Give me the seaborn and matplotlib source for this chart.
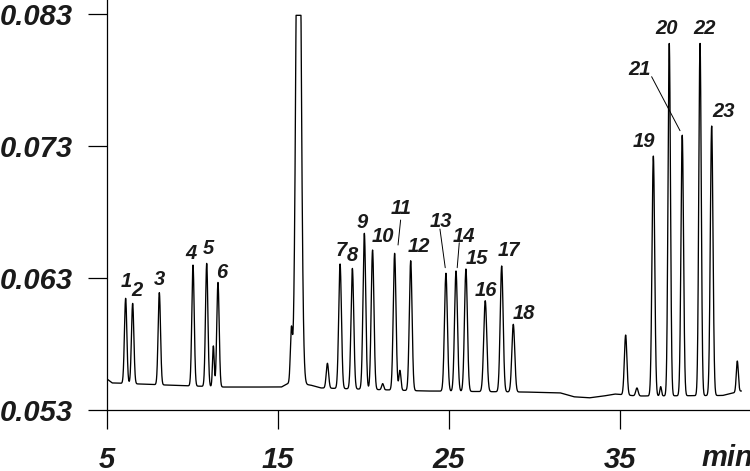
import numpy as np
import pandas as pd
import matplotlib.pyplot as plt
import seaborn as sns

# -------------------------------
# Data
# -------------------------------
# baseline knots (min, signal)
base_t = [5.0, 5.3, 8.5, 11.8, 15.2, 15.65, 16.9, 17.5, 23.6, 29.5, 31.5, 32.3, 33.2, 34.0, 34.7, 36.0, 41.0, 42.1]
base_v = [0.05535, 0.05505, 0.05489, 0.05474, 0.05474, 0.05505, 0.05489, 0.05467, 0.05444, 0.05436,
          0.05430, 0.05400, 0.05392, 0.05405, 0.05421, 0.05406, 0.05410, 0.05444]

# peak table: retention time (min), apex value, sigma (min)
peak_rt = [6.09, 6.50, 8.06, 10.03, 10.83, 11.22, 11.49, 15.78, 16.20, 17.89,
           18.63, 19.35, 20.05, 20.53, 21.12, 21.82, 22.13, 22.76, 24.82, 25.41,
           25.99, 27.12, 28.08, 28.76, 35.33, 35.99, 36.95, 37.38, 37.88, 38.64,
           39.68, 40.36, 41.86]
peak_apex = [0.06146, 0.06108, 0.06189, 0.06398, 0.06411, 0.05785, 0.06267, 0.05893, 0.1050, 0.05654,
             0.06406, 0.06373, 0.06639, 0.06512, 0.05500, 0.06487, 0.05600, 0.06431, 0.06336, 0.06353,
             0.06368, 0.06128, 0.06391, 0.05949, 0.05868, 0.05467, 0.07224, 0.05477, 0.08078, 0.07383,
             0.08078, 0.07452, 0.05671]
peak_sigma = [0.070, 0.070, 0.070, 0.070, 0.070, 0.050, 0.070, 0.060, 0.135, 0.070,
              0.080, 0.080, 0.080, 0.080, 0.060, 0.080, 0.060, 0.080, 0.085, 0.085,
              0.085, 0.090, 0.085, 0.085, 0.075, 0.070, 0.078, 0.050, 0.072, 0.075,
              0.072, 0.078, 0.060]
saturation = 0.0829  # detector flat top of the big peak

# peak labels
label_text = [str(i) for i in range(1, 24)]
label_t = [6.11, 6.75, 8.04, 9.91, 10.91, 11.73, 18.67, 19.35, 19.95, 21.12, 22.23, 23.26,
           24.51, 25.88, 26.65, 27.15, 28.53, 29.40, 36.42, 37.73, 36.13, 39.97, 41.04]
label_v = [0.06270, 0.06209, 0.06292, 0.06482, 0.06527, 0.06345, 0.06512, 0.06474, 0.06724, 0.06618,
           0.06828, 0.06542, 0.06727, 0.06613, 0.06449, 0.06209, 0.06512, 0.06033, 0.07333, 0.08192,
           0.07876, 0.08192, 0.07560]

# leader lines for labels 11, 13, 14, 21
leader_t = [(22.17, 22.02), (24.47, 24.78), (25.60, 25.48), (36.85, 38.51)]
leader_v = [(0.06739, 0.06550), (0.06671, 0.06378), (0.06567, 0.06378), (0.07825, 0.07416)]

x_ticks = [5, 15, 25, 35]
y_ticks = [0.053, 0.063, 0.073, 0.083]
y_ticklabels = ["0.053", "0.063", "0.073", "0.083"]

# -------------------------------
# Build trace
# -------------------------------
t = np.linspace(5.0, 42.1, 6000)
signal = np.interp(t, base_t, base_v)
for rt, ap, s in zip(peak_rt, peak_apex, peak_sigma):
    amp = ap - np.interp(rt, base_t, base_v)
    signal = signal + amp * np.exp(-0.5 * ((t - rt) / s) ** 2)
signal = np.minimum(signal, saturation)
df = pd.DataFrame({"time": t, "signal": signal})

# -------------------------------
# Plot
# -------------------------------
sns.set_theme(style="ticks")
plt.rcParams["font.family"] = ["Liberation Sans", "DejaVu Sans"]
plt.rcParams["font.weight"] = "bold"
plt.rcParams["font.style"] = "italic"

fig = plt.figure(figsize=(7.5, 4.71), dpi=100)
ax = fig.add_axes([107 / 750, 61 / 471, 643 / 750, 410 / 471])

sns.lineplot(data=df, x="time", y="signal", ax=ax, color="black", linewidth=0.95, sort=False)

for txt, lt, lv in zip(label_text, label_t, label_v):
    ax.text(lt, lv, txt, fontsize=14.5, fontweight="bold", fontstyle="italic",
            ha="center", va="center", color="#1a1a1a")
for lt, lv in zip(leader_t, leader_v):
    ax.plot(lt, lv, color="black", linewidth=0.7)

ax.set_xlim(5, 5 + 643 / 17.1)
ax.set_ylim(0.053, 0.053 + 410 / 13200)
ax.set_xticks(x_ticks)
ax.set_xticklabels([str(v) for v in x_ticks])
ax.set_yticks(y_ticks)
ax.set_yticklabels(y_ticklabels)
ax.set_xlabel("")
ax.set_ylabel("")

sns.despine(ax=ax)
for side in ["left", "bottom"]:
    ax.spines[side].set_linewidth(0.9)
    ax.spines[side].set_color("black")
ax.tick_params(axis="both", direction="out", length=13.7, width=0.9, color="black",
               labelsize=21, labelcolor="#1a1a1a")
ax.tick_params(axis="y", pad=11)
ax.tick_params(axis="x", pad=12)

fig.text(727 / 750, 1 - 458 / 471, "min", fontsize=21, fontweight="bold", fontstyle="italic",
         ha="center", va="center", color="#1a1a1a")

fig.savefig("out.png", dpi=100)
